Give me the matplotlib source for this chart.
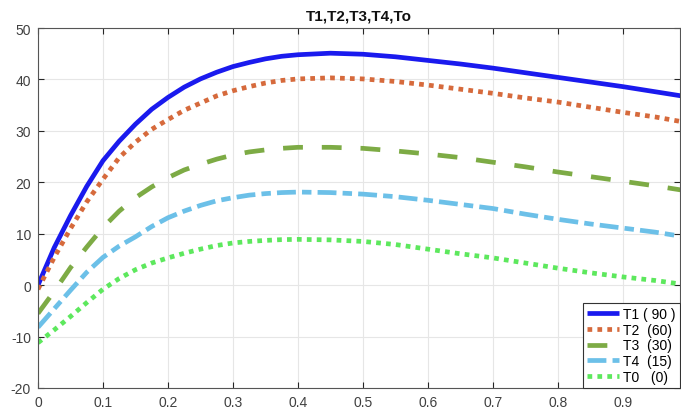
import matplotlib
matplotlib.use("Agg")
import matplotlib.pyplot as plt
import numpy as np

plt.rcParams['font.family'] = ['Liberation Sans', 'DejaVu Sans']
plt.rcParams['axes.unicode_minus'] = False

x = [0, 0.025, 0.05, 0.075, 0.1, 0.125, 0.15, 0.175, 0.2, 0.225, 0.25, 0.275, 0.3,
     0.325, 0.35, 0.375, 0.4, 0.45, 0.5, 0.55, 0.6, 0.65, 0.7, 0.75, 0.8, 0.85, 0.9, 0.95, 0.99]

T1 = [0, 7.3, 13.5, 19.2, 24.2, 28.0, 31.3, 34.2, 36.5, 38.5, 40.1, 41.4, 42.5,
      43.3, 44.0, 44.5, 44.8, 45.1, 44.9, 44.4, 43.7, 43.0, 42.2, 41.3, 40.4, 39.5, 38.6, 37.6, 36.8]
T2 = [-0.8, 5.4, 11.0, 16.2, 20.6, 24.8, 27.8, 30.3, 32.2, 34.0, 35.4, 36.8, 37.8,
      38.6, 39.3, 39.8, 40.1, 40.3, 40.1, 39.6, 38.9, 38.1, 37.3, 36.4, 35.6, 34.6, 33.6, 32.7, 31.8]
T3 = [-5.5, -1.2, 3.4, 7.4, 11.2, 14.4, 17.0, 19.1, 20.9, 22.4, 23.5, 24.5, 25.3,
      25.9, 26.3, 26.6, 26.8, 26.8, 26.6, 26.1, 25.5, 24.8, 23.9, 23.0, 22.0, 21.1, 20.2, 19.3, 18.5]
T4 = [-8.2, -4.6, -1.0, 2.5, 5.4, 7.6, 9.4, 11.4, 13.1, 14.4, 15.5, 16.4, 17.0,
      17.5, 17.8, 18.0, 18.1, 18.0, 17.7, 17.2, 16.5, 15.7, 14.9, 13.8, 12.8, 11.9, 11.1, 10.3, 9.5]
T0 = [-11.2, -8.7, -6.1, -3.4, -0.8, 1.3, 3.0, 4.3, 5.3, 6.2, 7.0, 7.7, 8.2,
      8.5, 8.7, 8.85, 8.9, 8.8, 8.5, 7.9, 7.0, 6.1, 5.3, 4.3, 3.3, 2.4, 1.6, 0.9, 0.2]

labels = ['T1 ( 90 )', 'T2  (60)', 'T3  (30)', 'T4  (15)', 'T0   (0)']
colors = ['#1a1aee', '#d66a3c', '#7dab45', '#6cc0e8', '#5de85d']
title = 'T1,T2,T3,T4,To'
xticks = [0, 0.1, 0.2, 0.3, 0.4, 0.5, 0.6, 0.7, 0.8, 0.9]
yticks = [-20, -10, 0, 10, 20, 30, 40, 50]

fig = plt.figure(figsize=(6.81, 4.10), dpi=100)
ax = fig.add_axes([38/681, 1-389/410, 642/681, 360/410])

lw = 3.4
series = [T1, T2, T3, T4, T0]
styles = [
    dict(linestyle='-'),
    dict(dashes=(1.0, 1.1)),
    dict(dashes=(4.2, 4.0)),
    dict(dashes=(4.0, 1.3, 2.0, 1.3)),
    dict(dashes=(1.0, 1.1)),
]
for s, lab, c, st in zip(series, labels, colors, styles):
    ax.plot(x, s, color=c, lw=lw, label=lab, dash_capstyle='butt',
            solid_capstyle='butt', solid_joinstyle='round', **st)

ax.set_xlim(0, 0.988)
ax.set_ylim(-20, 50)
ax.set_xticks(xticks)
ax.set_xticklabels(['0'] + [f'{v:g}' for v in xticks[1:]])
ax.set_yticks(yticks)
ax.grid(True, color='#e6e6e6', lw=0.8)
ax.set_axisbelow(True)
ax.tick_params(direction='in', length=4, width=0.8, colors='#262626',
               labelcolor='#404040', labelsize=10, top=True, right=True, pad=5)
for sp in ax.spines.values():
    sp.set_color('#555555')
    sp.set_linewidth(0.8)

ax.set_title(title, fontsize=11, fontweight='bold', pad=6, color='#111111')

leg = ax.legend(loc='lower right', fontsize=10, handlelength=2.3,
                labelspacing=0.12, borderaxespad=0, fancybox=False,
                framealpha=1, edgecolor='#333333', borderpad=0.3,
                handletextpad=0.3)
leg.get_frame().set_linewidth(0.8)

fig.savefig('out.png', dpi=100)
